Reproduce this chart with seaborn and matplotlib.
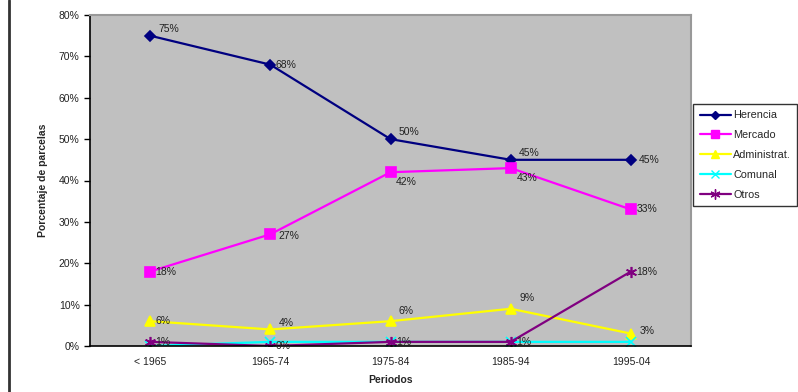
import matplotlib
matplotlib.use('Agg')
import matplotlib.pyplot as plt
import matplotlib.lines as mlines
import seaborn as sns
import pandas as pd
from matplotlib.ticker import PercentFormatter, FixedLocator

periodos = ['< 1965', '1965-74', '1975-84', '1985-94', '1995-04']
herencia = [75, 68, 50, 45, 45]
mercado = [18, 27, 42, 43, 33]
administrat = [6, 4, 6, 9, 3]
comunal = [0, 1, 1, 1, 1]
otros = [1, 0, 1, 1, 18]

series = ['Herencia', 'Mercado', 'Administrat.', 'Comunal', 'Otros']
values = [herencia, mercado, administrat, comunal, otros]
colors = ['#000080', '#FF00FF', '#FFFF00', '#00FFFF', '#800080']
markers = ['D', 's', '^', 'x', (6, 2, 0)]
msizes = [5, 7, 7, 7, 8]
show_labels = [True, True, True, False, True]
# label offsets in points (dx, dy)
offsets = [
    [(6, 5), (4, 0), (6, 5), (6, 5), (6, 0)],
    [(4, 0), (6, -1), (4, -7), (4, -7), (4, 0)],
    [(4, 0), (6, 5), (6, 7), (6, 8), (6, 2)],
    [(4, 0)] * 5,
    [(4, 0), (4, 0), (4, 0), (4, 0), (4, 0)],
]

rows = []
for name, vals in zip(series, values):
    for i, v in enumerate(vals):
        rows.append({'Periodo': i, 'Serie': name, 'Valor': v})
df = pd.DataFrame(rows)

sns.set_style('white')
plt.rcParams['font.family'] = ['Liberation Sans', 'DejaVu Sans']

fig = plt.figure(figsize=(7.98, 3.92), dpi=100)
ax = fig.add_axes([90 / 798, 1 - 346 / 392, 601 / 798, 331 / 392])
ax.set_facecolor('#C0C0C0')

for name, col, mk, ms in zip(series, colors, markers, msizes):
    sub = df[df['Serie'] == name]
    sns.lineplot(data=sub, x='Periodo', y='Valor', ax=ax, color=col,
                 linewidth=1.6, marker=mk, markersize=ms,
                 markeredgecolor=col, markerfacecolor=col,
                 markeredgewidth=1.2, legend=False)

for name, vals, show, offs in zip(series, values, show_labels, offsets):
    if not show:
        continue
    for i, v in enumerate(vals):
        ax.annotate(f'{v}%', (i, v), xytext=offs[i], textcoords='offset points',
                    fontsize=7.5, color='#222222', va='center', ha='left')

ax.set_xlim(-0.5, 4.5)
ax.set_ylim(0, 80)
ax.set_yticks(range(0, 81, 10))
ax.yaxis.set_major_formatter(PercentFormatter(decimals=0))
ax.set_xticks(range(5))
ax.set_xticklabels(periodos)
ax.xaxis.set_minor_locator(FixedLocator([-0.5, 0.5, 1.5, 2.5, 3.5, 4.5]))
ax.tick_params(axis='x', which='major', length=0, pad=8, labelsize=7.5, labelcolor='#222222')
ax.tick_params(axis='x', which='minor', length=4, width=1, color='black', direction='out')
ax.tick_params(axis='y', length=4, width=1, color='black', direction='out',
               labelsize=7.5, labelcolor='#222222', left=True)
ax.set_xlabel('Periodos', fontsize=7.5, fontweight='bold', labelpad=6)
ax.set_ylabel('Porcentaje de parcelas', fontsize=7.5, fontweight='bold', labelpad=8)

for side in ['left', 'bottom']:
    ax.spines[side].set_color('black')
    ax.spines[side].set_linewidth(1.2)
for side in ['top', 'right']:
    ax.spines[side].set_color('#999999')
    ax.spines[side].set_linewidth(1.5)

handles = [mlines.Line2D([], [], color=c, marker=m, markersize=s * 0.9, linewidth=1.6,
                         markerfacecolor=c, markeredgecolor=c, label=n)
           for n, c, m, s in zip(series, colors, markers, msizes)]
leg = fig.legend(handles=handles, loc='upper left',
                 bbox_to_anchor=(693 / 798, 1 - 104 / 392), fontsize=7.8,
                 frameon=True, fancybox=False, edgecolor='black',
                 handlelength=2.9, handletextpad=0.2, labelspacing=0.9,
                 borderpad=0.6, borderaxespad=0)
leg.get_frame().set_linewidth(1.0)

fig.add_artist(mlines.Line2D([8.5 / 798, 8.5 / 798], [0, 1], transform=fig.transFigure,
                             color='#333333', linewidth=2))

fig.savefig('out.png', dpi=100)
